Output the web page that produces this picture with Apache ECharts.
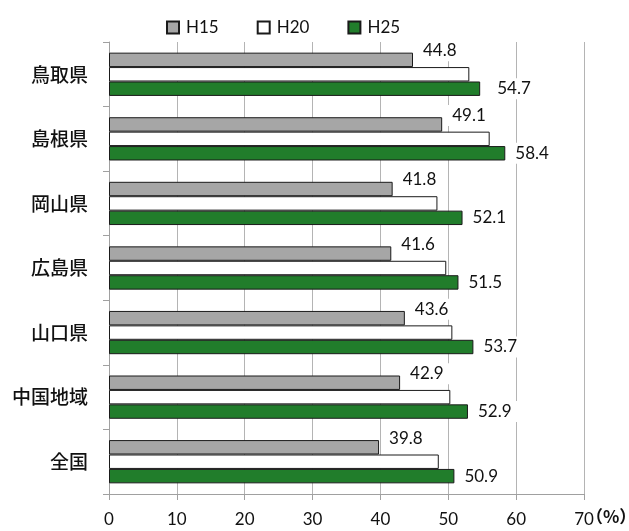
<!DOCTYPE html>
<html>
<head>
<meta charset="utf-8">
<script src="https://cdn.jsdelivr.net/npm/echarts@6/dist/echarts.min.js"></script>
<style>
  html, body { margin: 0; padding: 0; background: #fff; }
  #chart { width: 629px; height: 531px; }
</style>
</head>
<body>
<div id="chart"></div>
<script>
// Prefectures of the Chugoku region, the region total and the national figure
const categories = ['鳥取県', '島根県', '岡山県', '広島県', '山口県', '中国地域', '全国'];
const seriesNames = ['H15', 'H20', 'H25'];
const valuesH15 = [44.8, 49.1, 41.8, 41.6, 43.6, 42.9, 39.8];
const valuesH20 = [53.1, 56.1, 48.4, 49.7, 50.6, 50.3, 48.6];
const valuesH25 = [54.7, 58.4, 52.1, 51.5, 53.7, 52.9, 50.9];
const xTicks = [0, 10, 20, 30, 40, 50, 60, 70];
const unitText = '（%）';

const labelFont = 'Lato, "Liberation Sans", sans-serif';
const cjkFont = '"Noto Sans CJK JP", sans-serif';
const gridBox = { left: 109, right: 45, top: 42, bottom: 37 };
const tickLabelMargin = 17;

// value labels sit on a white box so the grid lines break behind them
const baseLabel = {
  show: true,
  position: 'right',
  distance: 4,
  padding: [2, 6],
  backgroundColor: '#fff',
  color: '#111',
  fontFamily: labelFont,
  fontSize: 17,
  formatter: p => p.value.toFixed(1)
};

const h25Data = valuesH25.map((v, i) =>
  i === 0 ? { value: v, label: { distance: 11 } } : v);

const chart = echarts.init(document.getElementById('chart'), null, { renderer: 'canvas' });
chart.setOption({
  animation: false,
  backgroundColor: '#fff',
  legend: {
    data: seriesNames,
    left: 161,
    top: 14,
    itemWidth: 12,
    itemHeight: 12,
    itemGap: 38,
    icon: 'rect',
    textStyle: { fontFamily: labelFont, fontSize: 17, color: '#111', padding: [0, 0, 0, 2] }
  },
  grid: Object.assign({ outerBoundsMode: 'none', containLabel: false }, gridBox),
  xAxis: {
    type: 'value',
    min: xTicks[0],
    max: xTicks[xTicks.length - 1],
    interval: xTicks[1] - xTicks[0],
    axisLine: { show: true, lineStyle: { color: '#a0a0a0', width: 1 } },
    axisTick: { show: true, length: 6, lineStyle: { color: '#a0a0a0' } },
    axisLabel: { margin: tickLabelMargin, fontFamily: labelFont, fontSize: 17, color: '#111' },
    splitLine: { show: true, lineStyle: { color: '#b4b4b4', width: 1 } }
  },
  yAxis: {
    type: 'category',
    data: categories,
    inverse: true,
    axisLine: { show: true, lineStyle: { color: '#a0a0a0', width: 1 } },
    axisTick: { show: true, length: 6, lineStyle: { color: '#a0a0a0' } },
    axisLabel: { margin: 21, fontFamily: cjkFont, fontSize: 19, fontWeight: 500, color: '#111' },
    splitLine: { show: false }
  },
  series: [
    {
      name: seriesNames[0],
      type: 'bar',
      data: valuesH15,
      barGap: '0%',
      barCategoryGap: '33%',
      itemStyle: { color: '#a6a6a6', borderColor: '#1a1a1a', borderWidth: 1 },
      label: Object.assign({}, baseLabel, { offset: [0, -9] }),
      z: 3
    },
    {
      name: seriesNames[1],
      type: 'bar',
      data: valuesH20,
      barGap: '0%',
      barCategoryGap: '33%',
      itemStyle: { color: '#ffffff', borderColor: '#1a1a1a', borderWidth: 1 },
      z: 2
    },
    {
      name: seriesNames[2],
      type: 'bar',
      data: h25Data,
      barGap: '0%',
      barCategoryGap: '33%',
      itemStyle: { color: '#217d2b', borderColor: '#1a1a1a', borderWidth: 1 },
      label: Object.assign({}, baseLabel),
      z: 3
    }
  ]
});

// unit mark placed just after the last tick label of the value axis
const axisEndX = chart.convertToPixel({ xAxisIndex: 0 }, xTicks[xTicks.length - 1]);
const axisY = chart.getHeight() - gridBox.bottom;
chart.setOption({
  graphic: [{
    type: 'text',
    left: axisEndX + 2,
    top: axisY + tickLabelMargin - 3,
    style: {
      text: unitText,
      fontFamily: cjkFont,
      fontSize: 17,
      fontWeight: 'bold',
      fill: '#111'
    }
  }]
});
</script>
</body>
</html>
